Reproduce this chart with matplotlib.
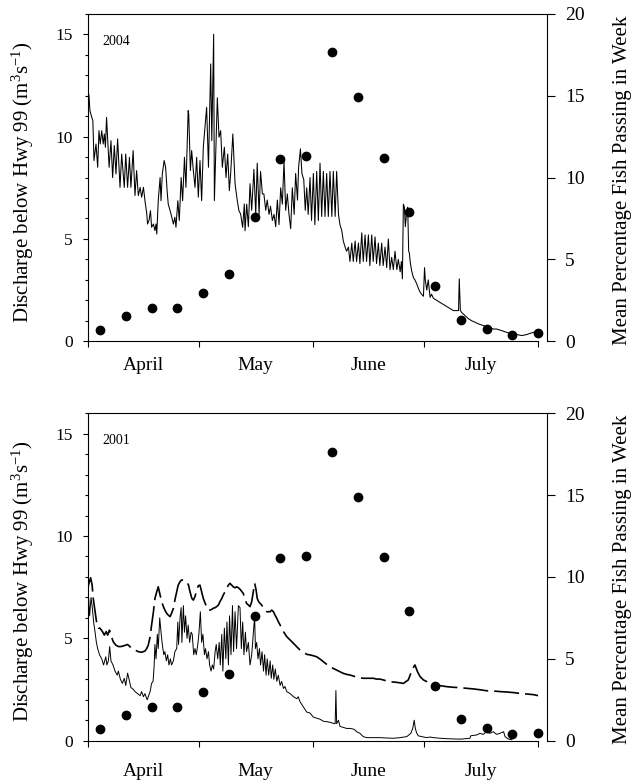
import matplotlib
matplotlib.use("Agg")
import matplotlib.pyplot as plt
from matplotlib.ticker import FixedLocator, MultipleLocator, NullFormatter

plt.rcParams['font.family'] = ['Liberation Serif', 'DejaVu Serif']
plt.rcParams['mathtext.fontset'] = 'custom'
plt.rcParams['mathtext.rm'] = 'Liberation Serif'
plt.rcParams['mathtext.it'] = 'Liberation Serif:italic'

# days since 1 April
month_edges = [0, 30, 61, 91, 122]
month_mid = [15, 45.5, 76, 106.5]
month_names = ['April', 'May', 'June', 'July']

# weekly mean percentage of fish passing (right axis)
week_day = [3.4, 10.4, 17.4, 24.3, 31.3, 38.3, 45.3, 52.2, 59.2,
            66.2, 73.2, 80.2, 87.1, 94.1, 101.1, 108.1, 115.0, 122.0]
pct_fish = [0.7, 1.55, 2.05, 2.05, 2.95, 4.1, 7.6, 11.15, 11.3,
            17.65, 14.9, 11.2, 7.9, 3.35, 1.3, 0.75, 0.4, 0.5]

# 2004 discharge below Hwy 99
day04 = [0.0, 0.35, 0.6, 1.1, 1.4, 1.7, 2.25, 2.7, 3.05, 3.4, 3.8, 4.2, 4.5, 4.8,
         5.1, 5.8, 6.3, 6.75, 7.2, 7.65, 8.1, 8.75, 9.2, 9.9, 10.3, 10.8, 11.3, 11.7,
         12.3, 12.8, 13.25, 13.7, 14.2, 14.6, 15.1, 15.5, 16.0, 16.2, 16.6, 17.0, 17.3,
         17.8, 18.2, 18.5, 18.7, 19.1, 19.6, 19.85, 20.2, 20.7, 21.1, 21.5, 21.8, 22.55,
         23.2, 23.6, 23.9, 24.4, 24.8, 25.3, 25.7, 26.2, 26.6, 27.2, 27.35, 27.8, 28.15,
         28.6, 29.05, 29.5, 29.95, 30.4, 30.85, 31.3, 32.2, 32.7, 33.3, 33.6, 34.1, 34.3,
         35.1, 35.55, 36.0, 36.45, 37.0, 37.45, 37.9, 38.35, 38.7, 39.3, 39.9, 40.5,
         40.95, 41.4, 41.95, 42.4,
         42.6, 43.05, 43.5, 43.95, 44.4, 45.0, 45.5, 45.9, 46.4, 46.8, 47.3, 47.7, 48.2,
         48.6, 49.1, 49.5, 50.0, 50.45, 50.9, 51.35, 51.8, 52.25, 52.7, 53.15, 53.6,
         54.05, 54.5, 54.96, 55.4, 55.9, 56.3, 56.8, 57.1, 57.6, 58.0, 58.5, 58.9, 59.3,
         59.7, 60.2, 60.6, 61.1, 61.5, 62.0, 62.45, 62.9, 63.35, 63.8, 64.25, 64.7,
         65.15, 65.6, 66.1, 66.5, 67.0, 67.4, 67.9, 68.3, 68.8, 69.2, 69.7, 70.1, 70.6,
         71.0, 71.5, 71.9, 72.4, 72.8, 73.3, 73.7, 74.2, 74.6, 75.1, 75.5, 76.0, 76.4,
         76.9, 77.3, 77.8, 78.2, 78.7, 79.1, 79.6, 80.0, 80.5, 80.95, 81.4, 81.85, 82.3,
         82.75, 83.2, 83.7, 84.1,
         84.6, 84.93, 85.2, 85.47, 85.74, 86.0, 86.4, 86.64, 86.9, 87.1, 87.3, 87.7,
         88.2, 88.6, 89.1, 89.5, 90.0, 90.4, 90.9, 91.2, 91.4, 91.8, 92.2, 92.7, 93.1,
         93.6, 94.5, 95.4, 96.3, 97.2, 98.1, 99.0, 99.9, 100.4, 100.6, 100.9, 101.3,
         102.2, 103.1, 104.0, 104.9, 105.8, 107.1, 108.5, 109.8, 110.7, 112.1, 113.4,
         114.8, 116.2, 117.5, 118.9, 119.8, 120.7, 121.6]
flow04 = [12.25, 12.0, 11.27, 10.94, 10.78, 8.83, 9.64, 8.5, 10.29, 9.64, 10.29, 9.64,
          10.13, 9.48, 10.94, 8.5, 9.8, 8.0, 9.56, 8.18, 9.89, 7.52, 9.15, 7.52, 9.15,
          7.52, 8.99, 7.52, 9.32, 7.12, 8.34, 7.12, 7.52, 7.04, 7.52, 6.87, 6.22, 5.73,
          5.9, 6.38, 5.57, 5.73, 5.41, 5.73, 5.24, 6.87, 8.0, 6.87, 8.18, 8.83, 8.5, 7.36,
          6.71, 6.22, 5.73, 6.06, 5.57, 6.87, 5.9, 8.0, 6.87, 8.99, 7.52, 11.27, 11.1,
          8.34, 9.32, 8.34, 7.52, 8.99, 7.04, 8.83, 6.87, 9.48, 11.43, 8.5, 13.55, 9.8,
          15.0, 6.87, 11.9, 9.97, 10.29, 8.5, 9.48, 8.0, 9.15, 7.36, 8.18, 10.13, 7.69,
          6.87, 6.38, 6.22, 5.57, 6.71,
          5.4, 6.7, 5.6, 7.7, 6.4, 8.4, 6.2, 8.7, 6.2, 8.3, 7.2, 7.2, 6.4, 6.9, 6.2, 6.6,
          5.9, 6.2, 5.6, 6.9, 5.7, 7.5, 6.7, 8.8, 6.4, 7.2, 6.2, 5.5, 7.5, 6.2, 8.2, 6.9,
          8.5, 9.4, 8.2, 7.9, 6.4, 7.5, 6.2, 8.0, 5.9, 8.2, 5.7, 8.3, 5.9, 8.7, 6.1, 8.3,
          6.1, 8.2, 6.1, 8.3, 6.1, 8.3, 6.1, 8.3, 6.2, 5.7, 5.4, 4.9, 4.6, 4.4, 4.6, 3.9,
          4.8, 3.9, 4.9, 3.9, 4.8, 3.8, 5.3, 3.9, 5.2, 3.9, 5.2, 3.7, 5.2, 3.9, 5.1, 3.8,
          4.8, 3.7, 4.8, 3.7, 4.6, 3.6, 5.0, 3.5, 4.1, 3.5, 4.4, 3.5, 4.0,
          3.4, 3.9, 3.05, 6.7, 6.55, 5.6, 6.4, 6.55, 4.4, 4.3, 3.9, 3.45, 3.1, 3.0, 2.8,
          2.6, 2.4, 2.3, 2.2, 3.6, 3.0, 2.5, 3.0, 2.15, 2.3, 2.1, 2.0, 1.9, 1.8, 1.7, 1.6,
          1.5, 1.5, 1.5, 3.05, 1.5, 1.4, 1.25, 1.1, 1.0, 0.93, 0.85, 0.77, 0.68, 0.6,
          0.6, 0.52, 0.44, 0.36, 0.33, 0.28, 0.33, 0.39, 0.44, 0.36]

# 2001 discharge below Hwy 99 (solid)
day01 = [0.0, 0.26, 0.53, 0.9, 1.25, 1.6, 2.0, 2.35, 2.7, 3.2, 3.8, 4.3, 4.9, 5.2, 5.6,
         5.95, 6.3, 6.85, 7.4, 8.0, 8.3, 8.85, 9.4, 9.9, 10.3, 10.8, 11.2, 11.7, 12.4,
         12.8, 13.5, 14.2, 14.6, 15.1, 15.5, 16.1, 16.4, 16.9, 17.3, 17.7, 18.0, 18.2,
         18.5, 18.85, 19.1, 19.5, 19.85, 20.2, 20.6, 20.9, 21.3, 21.65, 22.0, 22.4, 22.7,
         23.2, 23.6, 24.1, 24.4, 24.6, 25.0, 25.3, 25.5, 25.9, 26.2, 26.5, 26.9, 27.2,
         27.6, 28.0, 28.3, 28.7, 29.05, 29.4, 29.8, 30.1, 30.5, 30.85, 31.2, 31.6, 31.9,
         32.3, 32.7, 33.0, 33.4, 33.75, 34.1, 34.5, 34.8, 35.2, 35.6, 35.9, 36.3, 36.6,
         37.0, 37.4, 37.7, 38.1, 38.4, 38.8, 39.2, 39.5, 39.9, 40.3, 40.8,
         41.24, 41.6, 41.96, 42.3, 42.7, 43.0, 43.5, 43.95, 44.4, 44.85, 45.2, 45.4,
         45.75, 46.1, 46.5, 46.8, 47.2, 47.6, 47.9, 48.3, 48.6, 49.0, 49.4, 49.7, 50.1,
         50.4, 50.8, 51.2, 51.6, 52.1, 52.5, 53.0, 53.4, 53.9, 54.8, 55.7, 56.6, 57.0,
         57.5, 58.4, 59.3, 60.2, 61.1, 62.0, 62.9, 63.8, 64.7, 65.6, 66.5, 67.0, 67.2,
         67.4, 67.9, 68.3, 69.2, 70.1, 71.0, 71.9, 72.4, 72.8, 73.7, 74.6, 75.5, 77.3,
         79.2, 81.0,
         82.8, 84.6, 86.4, 87.5, 88.0, 88.4, 88.7, 89.1, 89.5, 90.4, 91.8, 92.7, 93.6,
         95.4, 97.2, 99.9, 101.3, 103.5, 103.7, 105.3, 106.2, 107.1, 108.0, 108.9, 109.8,
         110.7, 111.6, 112.6, 113.0, 113.9, 114.8]
flow01 = [6.0, 6.95, 6.1, 7.0, 6.5, 5.8, 5.3, 4.8, 4.5, 4.2, 4.0, 3.7, 4.1, 3.7, 3.9,
          4.6, 3.9, 3.7, 3.4, 3.2, 3.4, 3.0, 2.8, 3.05, 2.7, 3.3, 3.0, 2.6, 2.5, 2.4, 2.3,
          2.2, 2.4, 2.15, 2.3, 2.0, 2.15, 2.4, 2.8, 2.9, 3.7, 4.7, 4.0, 5.2, 4.5, 6.0, 5.3,
          4.7, 4.2, 4.35, 3.9, 4.2, 3.7, 4.0, 3.7, 3.9, 4.35, 4.5, 5.8, 4.7, 6.0, 6.5,
          4.8, 6.6, 5.3, 6.1, 5.0, 5.65, 4.8, 5.3, 5.2, 4.2, 4.5, 4.2, 4.7, 5.2, 6.3, 4.8,
          5.2, 4.2, 4.5, 4.0, 4.35, 3.7, 3.4, 3.7, 3.5, 4.35, 4.7, 4.0, 4.8, 3.7, 5.2,
          3.4, 5.5, 4.0, 5.8, 3.7, 6.1, 4.2, 6.6, 4.35, 6.3, 4.5, 6.6,
          6.5, 4.5, 5.8, 4.2, 5.3, 4.35, 4.8, 3.7, 4.2, 5.3, 6.1, 4.5, 4.8, 4.0, 4.5, 3.7,
          4.35, 3.4, 4.2, 3.2, 4.0, 3.2, 3.9, 3.05, 3.7, 3.0, 3.5, 2.9, 3.2, 2.7, 2.9,
          2.55, 2.65, 2.4, 2.3, 2.15, 2.05, 2.15, 1.9, 1.65, 1.4, 1.35, 1.15, 1.1, 1.05,
          0.95, 0.93, 0.9, 0.85, 0.83, 2.45, 0.83, 1.0, 0.7, 0.65, 0.6, 0.6, 0.57, 0.52,
          0.44, 0.36, 0.2, 0.15, 0.15, 0.15, 0.13,
          0.12, 0.15, 0.2, 0.36, 0.6, 1.0, 0.6, 0.36, 0.24, 0.2, 0.15, 0.18, 0.15, 0.12,
          0.1, 0.08, 0.08, 0.12, 0.24, 0.28, 0.36, 0.31, 0.44, 0.36, 0.44, 0.31, 0.36,
          0.44, 0.2, 0.08, 0.05]

# 2001 dashed series
dday01 = [0.0, 0.35, 0.8, 1.2, 1.5, 2.0, 2.4, 2.9, 3.3, 4.0, 4.5, 5.0, 5.4, 5.9, 6.3,
          6.9, 7.6, 8.3, 9.0, 9.65, 10.3, 10.8, 11.4, 11.9, 12.8, 13.7, 14.6, 15.5,
          15.97, 16.4, 16.9, 17.3, 17.8, 18.2, 18.7, 19.1, 19.6, 20.0, 20.5, 20.9, 21.4,
          21.8, 22.3, 22.7, 23.2, 23.6, 24.1, 24.5, 25.0, 25.4, 25.9, 26.4, 26.8, 27.3,
          27.7, 28.2, 28.6, 29.05, 29.5, 29.95, 30.4, 30.85, 31.3, 31.8, 32.2, 32.7, 33.1,
          33.6, 34.0, 34.5, 34.9, 35.4, 35.8, 36.3, 36.7, 37.2, 37.6, 38.1, 38.5, 39.0,
          39.4, 39.9, 40.3, 40.8, 41.2,
          42.1, 42.6, 43.0, 43.5, 43.95, 44.4, 44.85, 45.2, 45.6, 45.9, 46.3, 46.66, 47.1,
          47.6, 48.0, 48.5, 48.9, 49.4, 49.8, 50.3, 50.7, 51.2, 51.6, 52.1, 53.0, 53.9,
          54.8, 55.7, 56.6, 57.5, 58.4, 59.3, 60.2, 61.1, 62.0, 62.9, 63.8, 64.7, 65.6,
          66.5, 67.4, 68.3, 69.2, 70.1, 71.0, 71.9, 72.8, 73.7, 74.6, 75.5, 76.4, 77.3,
          78.2, 79.1, 80.0, 80.95, 81.9,
          83.7, 85.5, 86.8, 87.5, 88.0, 88.6, 89.3, 90.0, 90.9, 92.2, 93.6, 95.4, 97.2,
          99.0, 100.8, 102.6, 104.4, 106.2, 108.0, 109.8, 111.6, 113.4, 115.3, 117.1,
          118.9, 120.7, 122.0]
dflow01 = [7.44, 7.7, 7.96, 7.6, 6.95, 6.3, 5.8, 5.5, 5.5, 5.33, 5.16, 5.33, 5.16, 5.4,
           5.16, 4.84, 4.67, 4.6, 4.6, 4.63, 4.67, 4.7, 4.6, 4.5, 4.43, 4.35, 4.32, 4.38,
           4.5, 4.67, 5.08, 5.65, 6.3, 6.95, 7.28, 7.52, 7.12, 6.8, 6.55, 6.38, 6.22,
           6.14, 6.06, 6.22, 6.47, 6.87, 7.28, 7.6, 7.77, 7.85, 7.85, 7.8, 7.77, 7.6, 7.28,
           6.95, 6.87, 7.04, 7.36, 7.57, 7.6, 7.28, 6.95, 6.71, 6.55, 6.38, 6.38, 6.42,
           6.47, 6.5, 6.55, 6.63, 6.79, 6.95, 7.12, 7.28, 7.44, 7.6, 7.69, 7.6, 7.52,
           7.47, 7.52, 7.47, 7.41,
           7.2, 6.95, 6.71, 6.63, 6.55, 6.79, 7.28, 7.69, 7.36, 6.95, 6.79, 6.71, 6.63,
           6.47, 6.38, 6.3, 6.3, 6.3, 6.38, 6.3, 6.14, 5.98, 5.82, 5.65, 5.33, 5.08, 4.92,
           4.76, 4.59, 4.43, 4.32, 4.22, 4.19, 4.15, 4.1, 3.99, 3.86, 3.73, 3.61, 3.53,
           3.45, 3.37, 3.29, 3.24, 3.21, 3.16, 3.11, 3.08, 3.05, 3.05, 3.05, 3.05, 3.01,
           3.01, 2.97, 2.92, 2.88,
           2.85, 2.8, 2.97, 3.29, 3.53, 3.7, 3.37, 3.13, 2.97, 2.85, 2.75, 2.69, 2.64,
           2.61, 2.59, 2.56, 2.53, 2.49, 2.44, 2.43, 2.4, 2.38, 2.35, 2.31, 2.28, 2.25,
           2.2]

XMAX = 122
LEFT = 87.7 / 633
W_MAIN = 450.6 / 633
W_RIGHT = 459.0 / 633
H = 327.5 / 780


def panel(fig, bottom, year, month_pad):
    ax = fig.add_axes([LEFT, bottom, W_MAIN, H])
    ax2 = fig.add_axes([LEFT, bottom, W_RIGHT, H], facecolor='none')

    ax.set_xlim(0, XMAX)
    ax.set_ylim(0, 16)
    ax.spines['top'].set_visible(False)
    ax.spines['right'].set_visible(False)
    ax.yaxis.set_major_locator(FixedLocator([0, 5, 10, 15]))
    ax.yaxis.set_minor_locator(MultipleLocator(1))
    ax.tick_params(axis='y', which='major', direction='out', length=3.8, width=0.8,
                   labelsize=12.5, pad=7)
    ax.tick_params(axis='y', which='minor', direction='out', length=2.2, width=0.8)
    ax.xaxis.set_major_locator(FixedLocator(month_edges))
    ax.xaxis.set_major_formatter(NullFormatter())
    ax.xaxis.set_minor_locator(FixedLocator(month_mid))
    ax.set_xticklabels(month_names, minor=True)
    ax.tick_params(axis='x', which='major', direction='out', length=4, width=0.8)
    ax.tick_params(axis='x', which='minor', length=0, labelsize=14, pad=month_pad)
    ax.text(3.9, 14.65, year, fontsize=10, va='center', ha='left')

    ax2.set_xlim(0, XMAX * W_RIGHT / W_MAIN)
    ax2.set_ylim(0, 20)
    ax2.spines['left'].set_visible(False)
    ax2.spines['bottom'].set_visible(False)
    ax2.set_xticks([])
    ax2.yaxis.tick_right()
    ax2.set_yticks([0, 5, 10, 15, 20])
    ax2.tick_params(axis='y', direction='out', length=5.5, width=0.8,
                    labelsize=14, pad=7.6)
    ax2.plot(week_day, pct_fish, 'o', color='black', ms=6, clip_on=False)

    for sp in list(ax.spines.values()) + list(ax2.spines.values()):
        sp.set_linewidth(0.8)

    yc = bottom + H / 2
    fig.text(23 / 633, yc - 0.006, 'Discharge below Hwy 99 (m$^3$s$^{-1}$)',
             rotation=90, ha='center', va='center', fontsize=15)
    fig.text(622 / 633, yc - 0.003, 'Mean Percentage Fish Passing in Week',
             rotation=90, ha='center', va='center', fontsize=15)
    return ax


fig = plt.figure(figsize=(6.33, 7.8), dpi=100)

ax_top = panel(fig, 1 - 341.3 / 780, '2004', 11.5)
ax_top.plot(day04, flow04, color='black', lw=0.75)

ax_bot = panel(fig, 1 - 740.7 / 780, '2001', 16)
ax_bot.plot(day01, flow01, color='black', lw=0.7)
ax_bot.plot(dday01, dflow01, color='black', lw=1.2, dashes=(15, 3.6))

fig.savefig('out.png', dpi=100)
